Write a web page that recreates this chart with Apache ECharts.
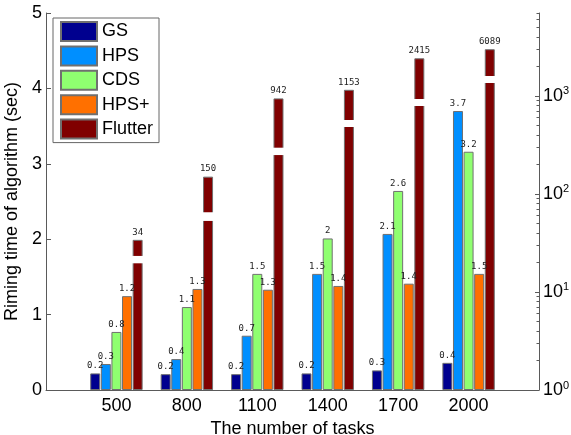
<!DOCTYPE html>
<html>
<head>
<meta charset="utf-8">
<script src="https://cdn.jsdelivr.net/npm/echarts@6/dist/echarts.min.js"></script>
<style>
  html, body { margin: 0; padding: 0; background: #fff; }
  #chart { width: 571px; height: 435px; }
</style>
</head>
<body>
<div id="chart"></div>
<script>
// x categories (number of tasks)
const tasks = [500, 800, 1100, 1400, 1700, 2000];

// running time (sec), left axis
const gs = [0.22, 0.21, 0.21, 0.22, 0.26, 0.36];
const hps = [0.345, 0.41, 0.72, 1.54, 2.07, 3.7];
const cds = [0.77, 1.1, 1.54, 2.01, 2.64, 3.16];
const hpsPlus = [1.245, 1.34, 1.33, 1.38, 1.41, 1.54];

// Flutter, right (log) axis: bar height as drawn, printed labels, and the white break cut in each bar
const flutter = [34, 150, 942, 1153, 2415, 2990];
const flutterLabels = ['34', '150', '942', '1153', '2415', '6089'];
const breakLow = [19.6, 53, 249, 481, 788, 1352];
const breakHigh = [23.3, 65, 296, 567, 929, 1594];

// log axis ticks
const logMajor = [1, 10, 100, 1000];
const logMinor = [2, 3, 4, 5, 6, 7, 8, 9, 20, 30, 40, 50, 60, 70, 80, 90,
  200, 300, 400, 500, 600, 700, 800, 900, 2000, 3000, 4000, 5000, 6000, 7000];

const FONT = 'Liberation Sans';
const EDGE = '#707070';
const BAR_W = 10;
const BAR_GAP = 0.06;
// flutter is the 5th bar of each group: its centre sits 2 slots right of the group centre
const FLUTTER_OFFSET = 2 * BAR_W * (1 + BAR_GAP);

const pair = (arr) => tasks.map((t, i) => [t, arr[i]]);
const num2str = (v) => String(Math.round(v * 10) / 10);

const barLabel = {
  show: true,
  position: 'top',
  distance: 3,
  fontFamily: 'DejaVu Sans Mono',
  fontSize: 9,
  color: '#222',
  formatter: (p) => num2str(p.value[1])
};

function bar(name, data, color, extra) {
  return Object.assign({
    name: name,
    type: 'bar',
    barWidth: BAR_W,
    barGap: BAR_GAP * 100 + '%',
    data: pair(data),
    itemStyle: { color: color, borderColor: EDGE, borderWidth: 1 },
    label: barLabel
  }, extra || {});
}

const series = [
  bar('GS', gs, '#00008F'),
  bar('HPS', hps, '#008FFF'),
  bar('CDS', cds, '#8FFF70'),
  bar('HPS+', hpsPlus, '#FF7000'),
  bar('Flutter', flutter, '#800000', {
    yAxisIndex: 1,
    label: Object.assign({}, barLabel, {
      formatter: (p) => flutterLabels[p.dataIndex]
    })
  }),
  {
    // white break drawn across each Flutter bar
    name: 'break',
    type: 'custom',
    yAxisIndex: 1,
    z: 3,
    silent: true,
    data: tasks.map((t, i) => [t, breakLow[i], breakHigh[i]]),
    encode: { x: 0, y: [1, 2] },
    renderItem: (params, api) => {
      const lo = api.coord([api.value(0), api.value(1)]);
      const hi = api.coord([api.value(0), api.value(2)]);
      const cx = lo[0] + FLUTTER_OFFSET;
      return {
        type: 'rect',
        shape: { x: cx - 6, y: hi[1], width: 12, height: lo[1] - hi[1] },
        style: { fill: '#fff' }
      };
    }
  }
];

const chart = echarts.init(document.getElementById('chart'));

chart.setOption({
  animation: false,
  backgroundColor: '#fff',
  textStyle: { fontFamily: FONT },
  grid: { left: 46, right: 32, top: 13, bottom: 45, containLabel: false, outerBoundsMode: 'none' },
  legend: {
    data: ['GS', 'HPS', 'CDS', 'HPS+', 'Flutter'],
    orient: 'vertical',
    left: 53,
    top: 18,
    padding: [3, 6, 3, 7],
    itemWidth: 36,
    itemHeight: 19,
    itemGap: 3.4,
    icon: 'rect',
    backgroundColor: '#fff',
    borderColor: '#666',
    borderWidth: 1,
    textStyle: { fontFamily: FONT, fontSize: 18, color: '#000' }
  },
  xAxis: {
    type: 'value',
    min: 200,
    max: 2300,
    name: 'The number of tasks',
    nameLocation: 'middle',
    nameGap: 25,
    nameTextStyle: { fontFamily: FONT, fontSize: 18, color: '#000' },
    axisLine: { show: true, lineStyle: { color: '#5a5a5a' } },
    axisTick: { show: false },
    splitLine: { show: false },
    axisLabel: {
      customValues: tasks,
      margin: 7,
      formatter: (v) => String(v),
      fontFamily: FONT,
      fontSize: 18,
      color: '#000'
    }
  },
  yAxis: [
    {
      type: 'value',
      min: 0,
      max: 5,
      interval: 1,
      position: 'left',
      name: 'Riming time of algorithm (sec)',
      nameLocation: 'middle',
      nameGap: 22,
      nameTextStyle: { fontFamily: FONT, fontSize: 18, color: '#000' },
      axisLine: { show: true, lineStyle: { color: '#5a5a5a' } },
      axisTick: { show: true, inside: true, length: 5, lineStyle: { color: '#5a5a5a' } },
      splitLine: { show: false },
      axisLabel: { margin: 4, fontFamily: FONT, fontSize: 18, color: '#000' }
    },
    {
      type: 'log',
      min: 1,
      max: 7000,
      position: 'right',
      axisLine: { show: true, lineStyle: { color: '#5a5a5a' } },
      axisTick: {
        show: true, inside: true, length: 4,
        customValues: logMajor,
        lineStyle: { color: '#5a5a5a' }
      },
      splitLine: { show: false },
      axisLabel: {
        customValues: logMajor,
        margin: 4,
        formatter: (v) => '{a|10}{b|' + Math.round(Math.log10(v)) + '}',
        rich: {
          a: { fontFamily: FONT, fontSize: 18, color: '#000', lineHeight: 20 },
          b: { fontFamily: FONT, fontSize: 11, color: '#000', lineHeight: 20, verticalAlign: 'top' }
        }
      }
    },
    {
      // minor ticks of the log axis
      type: 'log',
      min: 1,
      max: 7000,
      position: 'right',
      axisLine: { show: false },
      axisTick: {
        show: true, inside: true, length: 2.5,
        customValues: logMinor,
        lineStyle: { color: '#5a5a5a' }
      },
      splitLine: { show: false },
      axisLabel: { show: false }
    }
  ],
  series: series
});
</script>
</body>
</html>
